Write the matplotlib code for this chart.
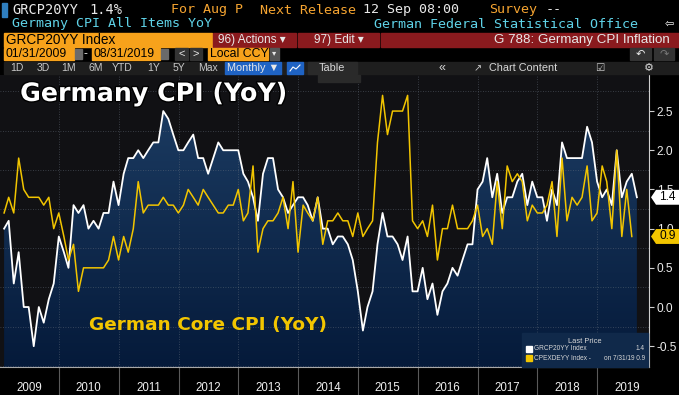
import numpy as np
import pandas as pd
import matplotlib
matplotlib.use("Agg")
import matplotlib.pyplot as plt
import matplotlib.dates as mdates
import matplotlib.patheffects as pe
from matplotlib.patches import Rectangle, Polygon
from matplotlib.lines import Line2D
from matplotlib.colors import LinearSegmentedColormap
from matplotlib.transforms import blended_transform_factory

# Germany CPI YoY (GRCP20YY), Jan 2009 - Aug 2019
cpi = [
    1.0, 1.1, 0.3, 0.7, 0.0, 0.0, -0.5, 0.0, -0.2, 0.1, 0.3, 0.9,
    0.7, 0.5, 1.3, 1.2, 1.3, 1.0, 1.1, 1.0, 1.2, 1.2, 1.6, 1.3,
    1.7, 1.9, 1.9, 2.0, 1.9, 2.0, 2.1, 2.1, 2.5, 2.4, 2.2, 2.0,
    2.0, 2.1, 2.2, 1.9, 1.9, 1.7, 1.9, 2.1, 2.0, 2.0, 2.0, 2.0,
    1.7, 1.6, 1.4, 1.1, 1.7, 1.9, 1.9, 1.5, 1.4, 1.2, 1.3, 1.4,
    1.4, 1.3, 1.1, 1.4, 1.0, 1.0, 0.8, 0.9, 0.9, 0.8, 0.6, 0.2,
    -0.3, 0.0, 0.2, 0.8, 1.2, 0.9, 0.9, 0.8, 0.6, 0.9, 0.2, 0.2,
    0.5, 0.1, 0.3, -0.1, 0.2, 0.3, 0.5, 0.4, 0.6, 0.8, 0.8, 1.5,
    1.6, 1.9, 1.4, 1.7, 1.2, 1.4, 1.4, 1.6, 1.7, 1.3, 1.6, 1.4,
    1.4, 1.1, 1.5, 1.3, 2.1, 1.9, 1.9, 1.9, 1.9, 2.3, 2.1, 1.6,
    1.4, 1.5, 1.3, 2.0, 1.4, 1.6, 1.7, 1.4,
]
# German core CPI YoY (CPEXDEYY), Jan 2009 - Jul 2019
core = [
    1.2, 1.4, 1.2, 1.9, 1.5, 1.4, 1.4, 1.4, 1.3, 1.4, 1.0, 1.2,
    0.9, 0.6, 0.8, 0.2, 0.5, 0.5, 0.5, 0.5, 0.5, 0.6, 0.9, 0.6,
    0.9, 0.7, 1.0, 1.6, 1.2, 1.3, 1.3, 1.3, 1.4, 1.3, 1.3, 1.2,
    1.3, 1.5, 1.4, 1.3, 1.5, 1.4, 1.3, 1.2, 1.2, 1.3, 1.3, 1.5,
    1.1, 1.2, 1.8, 0.7, 1.0, 1.1, 1.1, 1.2, 1.4, 1.0, 1.6, 0.7,
    1.3, 1.2, 1.1, 1.4, 0.8, 1.1, 1.1, 1.2, 1.1, 1.1, 0.9, 1.2,
    0.9, 1.0, 1.1, 2.1, 2.7, 2.2, 2.5, 2.5, 2.5, 2.7, 1.1, 1.0,
    1.1, 0.9, 1.3, 0.6, 1.0, 1.0, 1.3, 1.0, 1.0, 1.0, 1.1, 1.3,
    0.9, 1.0, 0.8, 1.6, 1.0, 1.8, 1.6, 1.7, 1.6, 1.1, 1.3, 1.2,
    1.2, 1.3, 1.6, 0.9, 1.9, 1.1, 1.4, 1.3, 1.4, 1.8, 1.1, 1.2,
    1.8, 1.6, 1.0, 2.0, 0.9, 1.5, 0.9,
]
yticks = [-0.5, 0.0, 0.5, 1.0, 1.5, 2.0, 2.5]

dates_cpi = pd.date_range("2009-01-31", periods=len(cpi), freq="ME")
dates_core = pd.date_range("2009-01-31", periods=len(core), freq="ME")

W, H = 679, 395
ORANGE = "#f7a21b"
RED = "#8a1a1e"
CYAN = "#5fd3e8"
YELLOW = "#f2c500"

fig = plt.figure(figsize=(W / 100, H / 100), dpi=100, facecolor="black")


def fx(x):
    return x / W


def fy(y):
    return 1 - y / H


def box(x0, y0, x1, y1, color, z=1):
    fig.patches.append(Rectangle((fx(x0), fy(y1)), (x1 - x0) / W, (y1 - y0) / H,
                                 transform=fig.transFigure, color=color, zorder=z))


def txt(x, y, s, color="#e8e8e8", size=9, family="Liberation Sans", **kw):
    fig.text(fx(x), fy(y), s, color=color, fontsize=size,
             family=[family, "DejaVu Sans"], va="center", **kw)


# ---- header rows
box(2, 3, 7, 17, "#2f7fc0")
mono = "DejaVu Sans Mono"
txt(12, 10, "GRCP20YY", size=9.8, family=mono)
txt(89, 10, "1.4%", size=9.8, family=mono)
txt(171, 10, "For Aug P", color="#f5a431", size=9.6, family=mono)
txt(260, 10, "Next Release", color="#f5a431", size=9.6, family=mono)
txt(363, 10, "12 Sep 08:00", size=9.6, family=mono)
txt(489, 10, "Survey", color="#f5a431", size=9.6, family=mono)
txt(546, 10, "--", size=9.6, family=mono)
txt(12, 24, "Germany CPI All Items YoY", color=CYAN, size=9.6, family=mono)
txt(374, 24, "German Federal Statistical Office", color=CYAN, size=9.6, family=mono)
txt(669, 24, "\u21e6", color="white", size=8, family="DejaVu Sans", ha="center")

box(4, 33, 212, 47, ORANGE)
txt(6, 40, "GRCP20YY Index", color="black", size=9.8)
box(213, 33, 296, 47, RED)
txt(218, 40, "96) Actions \u25be", size=8.5)
box(298, 33, 379, 47, RED)
txt(314, 40, "97) Edit \u25be", size=8.5)
box(381, 33, 679, 47, RED)
txt(670, 40, "G 788: Germany CPI Inflation", size=9.6, ha="right")

box(4, 48, 74, 60, ORANGE)
txt(6, 54, "01/31/2009", color="black", size=8.8)
box(75, 49, 82, 59, "#6a6a6a")
txt(84, 54, "-", size=8.5)
box(92, 48, 160, 60, ORANGE)
txt(94, 54, "08/31/2019", color="black", size=8.8)
box(161, 49, 168, 59, "#6a6a6a")
box(175, 48, 188, 60, "#333333")
txt(181.5, 54, "<", size=8, ha="center")
box(190, 48, 202, 60, "#333333")
txt(196, 54, ">", size=8, ha="center")
box(208, 48, 268, 60, ORANGE)
txt(210, 54, "Local CCY", color="black", size=8.8)
box(270, 48, 279, 60, "#555555")
txt(274.5, 54, "\u25be", size=6, ha="center")
box(630, 48, 651, 60, "#333333")
txt(640, 54, "\u21b6", size=8, ha="center", family="DejaVu Sans")
box(654, 48, 674, 60, "#333333")
txt(664, 54, "\u21b7", color="#777777", size=8, ha="center", family="DejaVu Sans")

box(4, 62, 679, 74, "#1e1e1e")
for label, xpos in [("1D", 17), ("3D", 43), ("1M", 69), ("6M", 96), ("YTD", 122),
                    ("1Y", 154), ("5Y", 179), ("Max", 208)]:
    txt(xpos, 68, label, color="#c8c8c8", size=7.5, ha="center")
box(225, 62, 281, 74, "#1f63c4")
txt(253, 68, "Monthly \u25bc", size=7.8, ha="center")
box(287, 62, 303, 74, "#1f63c4")
# small line-chart icon
fig.lines.append(Line2D([fx(290), fx(293), fx(296), fx(300)],
                        [fy(71), fy(67), fy(69), fy(65)],
                        transform=fig.transFigure, color="white", lw=0.8))
box(308, 62, 357, 74, "#2a2a2a")
txt(332, 68, "Table", color="#d8d8d8", size=7.8, ha="center")
txt(442, 68, "\u00ab", color="#d8d8d8", size=9, ha="center")
txt(478, 68, "\u2197", color="#c8c8c8", size=7, ha="center", family="DejaVu Sans")
txt(489, 68, "Chart Content", color="#d8d8d8", size=7.8)
txt(600, 68, "\u2611", color="#c8c8c8", size=7.5, ha="center", family="DejaVu Sans")
txt(649, 68, "\u2699", color="#d8d8d8", size=8, ha="center", family="DejaVu Sans")

# ---- chart
ax = fig.add_axes([0, 28 / H, 649 / W, (367 - 75) / H])
ax.set_facecolor("#111114")
xmin, xmax = pd.Timestamp("2009-01-06"), pd.Timestamp("2019-11-13")
ymin, ymax = -0.765, 2.96

fill = ax.fill_between(dates_cpi, cpi, ymin - 1, color="none", lw=0)
cmap = LinearSegmentedColormap.from_list("navy", ["#051a3a", "#1e3f66"])
grad = np.linspace(0, 1, 256).reshape(-1, 1)
im = ax.imshow(grad, cmap=cmap, origin="lower", aspect="auto", zorder=0.5,
               extent=[mdates.date2num(xmin), mdates.date2num(xmax), ymin, ymax])
im.set_clip_path(fill.get_paths()[0], transform=ax.transData)

ax.plot(dates_cpi, cpi, color="white", lw=1.3, zorder=3)
ax.plot(dates_core, core, color=YELLOW, lw=1.1, zorder=4)

ax.set_xlim(xmin, xmax)
ax.set_ylim(ymin, ymax)

ax.xaxis.set_major_locator(mdates.YearLocator())
ax.xaxis.set_minor_locator(mdates.MonthLocator(bymonth=7, bymonthday=2))
ax.xaxis.set_major_formatter(plt.NullFormatter())
ax.xaxis.set_minor_formatter(mdates.DateFormatter("%Y"))
ax.tick_params(axis="x", which="major", length=20, color="#5a5a5a", width=0.8)
ax.tick_params(axis="x", which="minor", length=0, pad=11, labelsize=8.3,
               labelcolor="#f0f0f0")
for lab in ax.get_xticklabels(minor=True):
    lab.set_family(["Liberation Sans", "DejaVu Sans"])

ax.yaxis.tick_right()
ax.set_yticks(yticks)
ax.set_yticklabels([f"{v:.1f}" for v in yticks], family=["Liberation Sans", "DejaVu Sans"])
ax.set_yticks(np.arange(-0.75, 2.9, 0.25), minor=True)
ax.tick_params(axis="y", which="major", length=3.5, color="#cfcfcf", pad=2,
               labelsize=8.6, labelcolor="#ececec")
ax.tick_params(axis="y", which="minor", length=0)
ax.set_axisbelow("line")
ax.grid(axis="y", which="minor", ls=(0, (1, 2)), color="#6a7480", lw=0.6, alpha=0.6)
ax.grid(axis="x", which="major", ls=(0, (1, 2)), color="#6a7480", lw=0.6, alpha=0.6)

for side in ["top", "left"]:
    ax.spines[side].set_visible(False)
ax.spines["right"].set_color("#cfcfcf")
ax.spines["right"].set_linewidth(0.8)
ax.spines["bottom"].set_color("#a8a8a8")
ax.spines["bottom"].set_linewidth(0.8)

# titles
ax.text(0.031, 0.935, "Germany CPI (YoY)", transform=ax.transAxes, color="white",
        fontsize=18.2, fontweight="bold", va="center", family="DejaVu Sans", zorder=6,
        path_effects=[pe.withStroke(linewidth=2, foreground="black")])
ax.text(0.137, 0.143, "German Core CPI (YoY)", transform=ax.transAxes, color=YELLOW,
        fontsize=13.3, fontweight="bold", va="center", family="DejaVu Sans", zorder=6)

# annotate tab
box(318, 75, 360, 82, "#2a2a2a", z=5)
txt(339, 78.5, "\u2713 Annotate", color="#9a9a9a", size=4, ha="center")

# legend box
box(522, 333, 648, 366.5, "#10294a", z=5)
txt(585, 341.5, "Last Price", color="#d8d8d8", size=5.4, ha="center", zorder=6)
box(526, 346, 532, 352, "white", z=6)
txt(534, 349, "GRCP20YY Index", color="#d8d8d8", size=4.7, zorder=6)
txt(645, 349, f"{cpi[-1]:.1f}", color="#d8d8d8", size=4.7, ha="right", zorder=6)
box(526, 355, 532, 361, YELLOW, z=6)
txt(534, 358, "CPEXDEYY Index -", color="#d8d8d8", size=4.7, zorder=6)
txt(645, 358, f"on 7/31/19 {core[-1]:.1f}", color="#d8d8d8", size=4.7, ha="right", zorder=6)

# last value tags on the right axis
tr = blended_transform_factory(fig.transFigure, ax.transData)
for val, face in [(cpi[-1], "white"), (core[-1], YELLOW)]:
    hh = 0.095
    pts = [(fx(651), val), (fx(656), val + hh), (fx(679), val + hh),
           (fx(679), val - hh), (fx(656), val - hh)]
    fig.patches.append(Polygon(pts, closed=True, transform=tr, facecolor=face,
                               edgecolor="none", zorder=10))
    fig.text(fx(667.5), val, f"{val:.1f}", transform=tr, color="black",
             fontsize=8.6, ha="center", va="center", zorder=11,
             family=["Liberation Sans", "DejaVu Sans"])

fig.savefig("out.png", dpi=100, facecolor="black")
